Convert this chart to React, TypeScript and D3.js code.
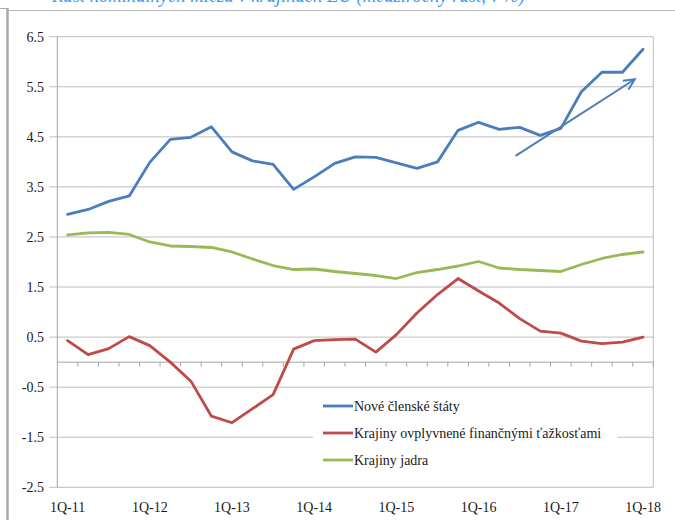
import React from "react";
import * as d3 from "d3";

const quarters: string[] = [];
for (let yr = 11; yr <= 18; yr++) {
  for (let q = 1; q <= 4; q++) {
    if (yr === 18 && q > 1) break;
    quarters.push(`${q}Q-${yr}`);
  }
}

const newMembers = [2.95, 3.05, 3.21, 3.32, 3.99, 4.45, 4.49, 4.70, 4.20, 4.02, 3.95, 3.45, 3.70, 3.97, 4.10, 4.09, 3.98, 3.87, 4.00, 4.63, 4.79, 4.65, 4.69, 4.53, 4.67, 5.40, 5.79, 5.79, 6.25];
const stressed = [0.43, 0.15, 0.27, 0.51, 0.33, 0.00, -0.38, -1.08, -1.21, -0.93, -0.65, 0.26, 0.43, 0.45, 0.46, 0.20, 0.55, 0.98, 1.35, 1.67, 1.42, 1.18, 0.87, 0.62, 0.58, 0.42, 0.37, 0.40, 0.50];
const core = [2.54, 2.58, 2.59, 2.55, 2.40, 2.32, 2.31, 2.29, 2.20, 2.06, 1.93, 1.85, 1.86, 1.81, 1.77, 1.73, 1.67, 1.79, 1.85, 1.92, 2.01, 1.88, 1.85, 1.83, 1.81, 1.95, 2.07, 2.15, 2.20];

const seriesNames = ["Nové členské štáty", "Krajiny ovplyvnené finančnými ťažkosťami", "Krajiny jadra"];
const seriesColors = ["#4A7EBB", "#BE4B48", "#98B954"];
const yTicks = [6.5, 5.5, 4.5, 3.5, 2.5, 1.5, 0.5, -0.5, -1.5, -2.5];
// trend arrow annotation in data coordinates: [category index, value]
const arrowStart = [21.8, 4.12];
const arrowEnd = [27.6, 5.65];
const titleText = "Rast nominálnych miezd v krajinách EÚ (medziročný rast, v %)";

const SERIF = "Liberation Serif, Times New Roman, DejaVu Serif, serif";

export default function App() {
  const W = 675, H = 520;
  const left = 57.3, right = 653.3, top = 36.7, bottom = 487.3;
  const x = d3.scaleBand<string>().domain(quarters).range([left, right]).paddingInner(0).paddingOuter(0);
  const y = d3.scaleLinear().domain([-2.5, 6.5]).range([bottom, top]);
  const cx = (i: number) => left + x.step() * (i + 0.5);
  const line = d3.line<number>().x((_, i) => cx(i)).y((d) => y(d));
  const all = [newMembers, stressed, core];
  const ts = { fontFamily: SERIF, fontSize: "14px" } as React.CSSProperties;

  const ax1 = cx(arrowStart[0]), ay1 = y(arrowStart[1]);
  const ax2 = cx(arrowEnd[0]), ay2 = y(arrowEnd[1]);
  const ang = Math.atan2(ay2 - ay1, ax2 - ax1);
  const hl = 12, ha = 0.45;
  const h1 = [ax2 - hl * Math.cos(ang - ha), ay2 - hl * Math.sin(ang - ha)];
  const h2 = [ax2 - hl * Math.cos(ang + ha), ay2 - hl * Math.sin(ang + ha)];

  const legX = 313, legY = 392;

  return (
    <svg width={W} height={H} style={{ position: "absolute", left: 0, top: 0, background: "#fff" }}>
      <rect x={0} y={0} width={W} height={H} fill="#fff" />
      <text x={52} y={1.5} fill="#3399FF" textLength={473} lengthAdjust="spacingAndGlyphs" style={{ fontFamily: SERIF, fontSize: "20px", fontStyle: "italic" }}>{titleText}</text>
      {/* outer frame */}
      <line x1={0} y1={8.5} x2={7.5} y2={8.5} stroke="#B0B0B0" strokeWidth={1} />
      <line x1={7.5} y1={8} x2={7.5} y2={H} stroke="#A8A8A8" strokeWidth={2.5} />
      <line x1={8} y1={10.5} x2={W} y2={10.5} stroke="#B8B8B8" strokeWidth={1.2} />
      {/* gridlines */}
      {yTicks.map((t) => (
        <line key={t} x1={left - 8} x2={right} y1={y(t)} y2={y(t)} stroke="#BEBEBE" strokeWidth={1} />
      ))}
      <line x1={left} x2={left} y1={top} y2={bottom} stroke="#A6A6A6" strokeWidth={1} />
      <line x1={right} x2={right} y1={top} y2={bottom} stroke="#BEBEBE" strokeWidth={1} />
      {/* zero axis with ticks */}
      <line x1={left} x2={right} y1={y(0)} y2={y(0)} stroke="#A6A6A6" strokeWidth={1} />
      {quarters.map((q, i) => (
        <line key={q} x1={left + x.step() * (i + 1)} x2={left + x.step() * (i + 1)} y1={y(0)} y2={y(0) + 4.5} stroke="#A6A6A6" strokeWidth={1} />
      ))}
      {/* y labels */}
      {yTicks.map((t) => (
        <text key={t} x={44} y={y(t) + 5} textAnchor="end" fill="#1a1a1a" style={ts}>{t.toFixed(1)}</text>
      ))}
      {/* x labels */}
      {quarters.map((q, i) => (q.startsWith("1Q") ? (
        <text key={q} x={cx(i)} y={512} textAnchor="middle" fill="#1a1a1a" style={ts}>{q}</text>
      ) : null))}
      {/* series */}
      {all.map((s, k) => (
        <path key={k} d={line(s) || ""} fill="none" stroke={seriesColors[k]} strokeWidth={2.8} strokeLinejoin="round" strokeLinecap="round" />
      ))}
      {/* arrow */}
      <line x1={ax1} y1={ay1} x2={ax2} y2={ay2} stroke="#4A7EBB" strokeWidth={2} />
      <polyline points={`${h1[0]},${h1[1]} ${ax2},${ay2} ${h2[0]},${h2[1]}`} fill="none" stroke="#4A7EBB" strokeWidth={2} />
      {/* legend */}
      <rect x={legX} y={legY} width={304} height={84} fill="#fff" />
      {seriesNames.map((n, k) => (
        <g key={n} transform={`translate(${legX + 10},${406 + k * 27})`}>
          <line x1={0} x2={30} y1={0} y2={0} stroke={seriesColors[k]} strokeWidth={2.8} />
          <text x={31} y={5} fill="#1a1a1a" style={ts}>{n}</text>
        </g>
      ))}
    </svg>
  );
}
